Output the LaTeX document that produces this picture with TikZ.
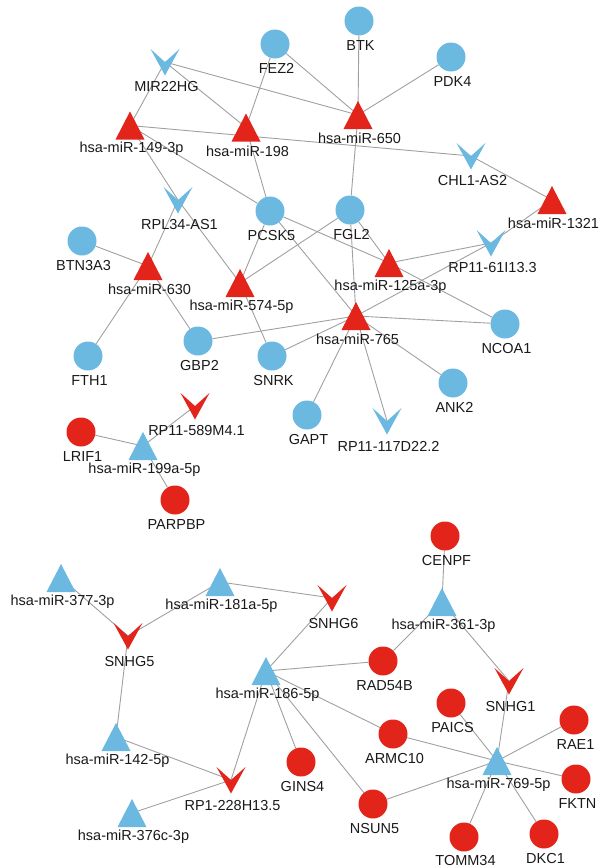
\documentclass[tikz,border=0pt]{standalone}
\usepackage{fontspec}
\setmainfont{Liberation Sans}
\pgfdeclarelayer{edges}
\pgfsetlayers{edges,main}
\definecolor{blueC}{RGB}{107,184,225}
\definecolor{redC}{RGB}{226,36,27}
\definecolor{edgeC}{RGB}{160,160,160}
\definecolor{textC}{RGB}{25,25,25}
\tikzset{
  circ/.style={circle, inner sep=0pt, minimum size=29pt},
  lab/.style={font=\fontsize{14.5}{16}\selectfont, text=textC, inner sep=0pt},
  edge/.style={draw=edgeC, line width=0.9pt}
}
\newcommand\Circ[5]{%
  \node[circ, fill=#4] (#1) at (#2,#3) {};
  \node[lab] (#1-l) at ({#2+1.5},{#3+24.5}) {#5};}
\newcommand\Tri[5]{%
  \node[coordinate] (#1) at (#2,#3) {};
  \fill[#4] (#2,#3) ++(-14.5,14) -- ++(29,0) -- ++(-14.5,-28) -- cycle;
  \node[lab] (#1-l) at ({#2+1.5},{#3+23.5}) {#5};}
\newcommand\Chev[5]{%
  \node[coordinate] (#1) at (#2,#3) {};
  \fill[#4] (#2,#3) ++(-14.5,-13) -- ++(14.5,13) -- ++(14.5,-13) -- ++(-14.5,26.5) -- cycle;
  \node[lab] (#1-l) at ({#2+1.5},{#3+25}) {#5};}
\begin{document}
\begin{tikzpicture}[x=1pt,y=-1pt]
\useasboundingbox (0,0) rectangle (602,868);
% ---- upper network ----
\Circ{FEZ2}{275}{44}{blueC}{FEZ2}
\Circ{BTK}{359}{21}{blueC}{BTK}
\Circ{PDK4}{451}{57}{blueC}{PDK4}
\Circ{PCSK5}{270}{211}{blueC}{PCSK5}
\Circ{FGL2}{350}{210}{blueC}{FGL2}
\Circ{BTN3A3}{82}{241}{blueC}{BTN3A3}
\Circ{GBP2}{198}{341}{blueC}{GBP2}
\Circ{SNRK}{272}{356}{blueC}{SNRK}
\Circ{FTH1}{88}{356}{blueC}{FTH1}
\Circ{NCOA1}{505}{324}{blueC}{NCOA1}
\Circ{ANK2}{453}{383}{blueC}{ANK2}
\Circ{GAPT}{307}{415}{blueC}{GAPT}
\Tri{m149}{130}{125.5}{redC}{hsa-miR-149-3p}
\Tri{m198}{246}{127.5}{redC}{hsa-miR-198}
\Tri{m650}{358}{115}{redC}{hsa-miR-650}
\Tri{m1321}{552}{200}{redC}{hsa-miR-1321}
\Tri{m630}{148}{266}{redC}{hsa-miR-630}
\Tri{m574}{240}{283}{redC}{hsa-miR-574-5p}
\Tri{m125a}{389}{263}{redC}{hsa-miR-125a-3p}
\Tri{m765}{356}{316}{redC}{hsa-miR-765}
\Chev{MIR22HG}{165}{62}{blueC}{MIR22HG}
\Chev{CHL1}{471}{156}{blueC}{CHL1-AS2}
\Chev{RPL34}{178}{200}{blueC}{RPL34-AS1}
\Chev{RPsix}{491}{243}{blueC}{RP11-61I13.3}
\Chev{RPone}{387}{421}{blueC}{RP11-117D22.2}
% ---- small network ----
\Circ{LRIF1}{81}{432}{redC}{LRIF1}
\Circ{PARPBP}{175}{500}{redC}{PARPBP}
\Tri{m199a}{143}{446}{blueC}{hsa-miR-199a-5p}
\Chev{RPfive}{195}{406}{redC}{RP11-589M4.1}
% ---- lower network ----
\Circ{CENPF}{445}{536}{redC}{CENPF}
\Circ{RAD54B}{383}{661}{redC}{RAD54B}
\Circ{PAICS}{451}{703}{redC}{PAICS}
\Circ{RAE1}{574}{720}{redC}{RAE1}
\Circ{ARMC10}{393}{734}{redC}{ARMC10}
\Circ{FKTN}{576}{779}{redC}{FKTN}
\Circ{NSUN5}{373}{804}{redC}{NSUN5}
\node[circ, fill=redC] (TOMM34) at (464,837) {};
\node[lab] (TOMM34-l) at (465.5,860) {TOMM34};
\Circ{DKC1}{544}{834}{redC}{DKC1}
\Circ{GINS4}{301}{762}{redC}{GINS4}
\Tri{m377}{61}{578}{blueC}{hsa-miR-377-3p}
\Tri{m181a}{220}{582}{blueC}{hsa-miR-181a-5p}
\Tri{m361}{442}{602}{blueC}{hsa-miR-361-3p}
\Tri{m186}{266}{671}{blueC}{hsa-miR-186-5p}
\Tri{m142}{116}{737}{blueC}{hsa-miR-142-5p}
\Tri{m376c}{132}{813}{blueC}{hsa-miR-376c-3p}
\Tri{m769}{497}{761}{blueC}{hsa-miR-769-5p}
\Chev{SNHGsix}{332}{598}{redC}{SNHG6}
\Chev{SNHGfive}{128}{636}{redC}{SNHG5}
\Chev{SNHGone}{509}{681}{redC}{SNHG1}
\Chev{RPtwo}{231}{780}{redC}{RP1-228H13.5}
% ---- edges ----
\begin{pgfonlayer}{edges}
\foreach \a/\b in {MIR22HG/m149, MIR22HG/m198, MIR22HG/m650, FEZ2/m198, FEZ2/m650,
  BTK/m650, PDK4/m650, m149/CHL1, CHL1/m1321, m149/RPL34, m149/PCSK5, m198/PCSK5,
  m650/FGL2, RPL34/m630, RPL34/m574, BTN3A3/m630, m630/FTH1, m630/GBP2,
  PCSK5/m574, FGL2/m574, m574/SNRK, PCSK5/m125a, PCSK5/m765, FGL2/m125a, FGL2/m765,
  m125a/RPsix, m125a/NCOA1, RPsix/m1321, RPsix/m765, m765/GBP2, m765/SNRK,
  m765/NCOA1, m765/ANK2, m765/GAPT, m765/RPone,
  RPfive/m199a, LRIF1/m199a, m199a/PARPBP,
  m377/SNHGfive, m181a/SNHGfive, m181a/SNHGsix, SNHGsix/m186, SNHGfive/m142,
  m142/RPtwo, m376c/RPtwo, RPtwo/m186, m186/RAD54B, m186/GINS4, m186/NSUN5,
  m186/ARMC10, CENPF/m361, m361/RAD54B, m361/SNHGone, SNHGone/m769, PAICS/m769,
  ARMC10/m769, NSUN5/m769, RAE1/m769, FKTN/m769, TOMM34/m769, DKC1/m769}
  \draw[edge] (\a) -- (\b);
\end{pgfonlayer}
\end{tikzpicture}
\end{document}
